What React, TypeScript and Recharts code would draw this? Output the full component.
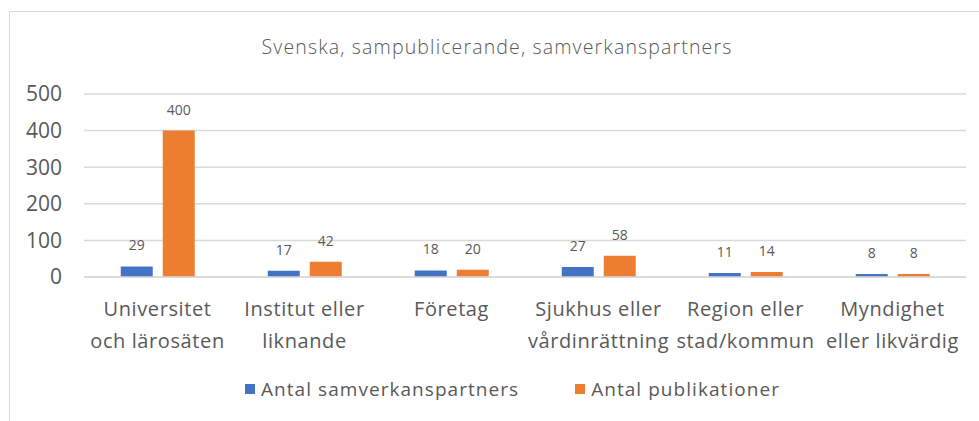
import React from "react";
import {
    BarChart,
    Bar,
    XAxis,
    YAxis,
    CartesianGrid,
    Legend,
    LabelList,
} from "recharts";

// kategorier (radbrytning med \n)
const categories: string[] = [
    "Universitet\noch lärosäten",
    "Institut eller\nliknande",
    "Företag",
    "Sjukhus eller\nvårdinrättning",
    "Region eller\nstad/kommun",
    "Myndighet\neller likvärdig",
];

const partners: number[] = [29, 17, 18, 27, 11, 8];
const publications: number[] = [400, 42, 20, 58, 14, 8];

const yTicks: number[] = [0, 100, 200, 300, 400, 500];

const seriesNames = ["Antal samverkanspartners", "Antal publikationer"];

const BLUE = "#4472C4";
const ORANGE = "#ED7D31";
const TEXT = "#595959";
const GRID = "#d9d9d9";
const FONT = "'Open Sans', Lato, sans-serif";

const data = categories.map((c, i) => ({
    name: c,
    partners: partners[i],
    publications: publications[i],
}));

const CategoryTick = (props: any) => {
    const { x, y, payload } = props;
    const lines: string[] = String(payload.value).split("\n");
    return (
        <g transform={`translate(${x},${y})`}>
            {lines.map((l, i) => (
                <text
                    key={i}
                    x={0}
                    y={31 + i * 32}
                    textAnchor="middle"
                    fill={TEXT}
                    fontSize={20}
                    fontFamily={FONT}
                    letterSpacing={0.6}
                >
                    {l}
                </text>
            ))}
        </g>
    );
};

const LegendContent = () => {
    const colors = [BLUE, ORANGE];
    return (
        <div
            style={{
                display: "flex",
                alignItems: "center",
                height: 44,
                fontFamily: FONT,
                fontSize: 19,
                letterSpacing: 1.05,
                color: TEXT,
            }}
        >
            {seriesNames.map((n, i) => (
                <div key={n} style={{ display: "flex", alignItems: "center", marginRight: i === 0 ? 56 : 0 }}>
                    <span style={{ width: 10, height: 10, background: colors[i], display: "inline-block", marginRight: 6 }} />
                    <span>{n}</span>
                </div>
            ))}
        </div>
    );
};

const App: React.FC = () => {
    return (
        <div style={{ position: "absolute", left: 0, top: 0, width: 979, height: 421, background: "#fff" }}>
            <div
                style={{
                    position: "absolute",
                    left: 9,
                    top: 11,
                    right: 0,
                    bottom: 0,
                    borderTop: `1px solid ${GRID}`,
                    borderLeft: `1px solid ${GRID}`,
                }}
            />
            <div
                style={{
                    position: "absolute",
                    left: 0,
                    top: 33,
                    width: 994,
                    textAlign: "center",
                    fontFamily: FONT,
                    fontWeight: 300,
                    fontSize: 19.5,
                    letterSpacing: 1.15,
                    color: TEXT,
                }}
            >
                Svenska, sampublicerande, samverkanspartners
            </div>
            <BarChart
                width={979}
                height={421}
                data={data}
                margin={{ top: 94, right: 13, left: 0, bottom: 10 }}
                barCategoryGap="25%"
                barGap={10}
                style={{ position: "absolute", left: 0, top: 0 }}
            >
                <CartesianGrid vertical={false} stroke={GRID} strokeWidth={1.5} />
                <XAxis
                    dataKey="name"
                    height={90}
                    axisLine={{ stroke: GRID, strokeWidth: 1.5 }}
                    tickLine={false}
                    interval={0}
                    tick={<CategoryTick />}
                />
                <YAxis
                    width={84}
                    domain={[0, 500]}
                    ticks={yTicks}
                    axisLine={false}
                    tickLine={false}
                    tickSize={0}
                    tickMargin={22}
                    tick={{ fill: TEXT, fontSize: 21, fontFamily: FONT }}
                />
                <Legend
                    verticalAlign="bottom"
                    height={44}
                    content={<LegendContent />}
                    wrapperStyle={{ left: 245, width: 640 }}
                />
                <Bar dataKey="partners" name={seriesNames[0]} fill={BLUE} isAnimationActive={false}>
                    <LabelList dataKey="partners" position="top" offset={16} fill={TEXT} fontSize={14} fontFamily={FONT} />
                </Bar>
                <Bar dataKey="publications" name={seriesNames[1]} fill={ORANGE} isAnimationActive={false}>
                    <LabelList dataKey="publications" position="top" offset={16} fill={TEXT} fontSize={14} fontFamily={FONT} />
                </Bar>
            </BarChart>
        </div>
    );
};

export default App;
